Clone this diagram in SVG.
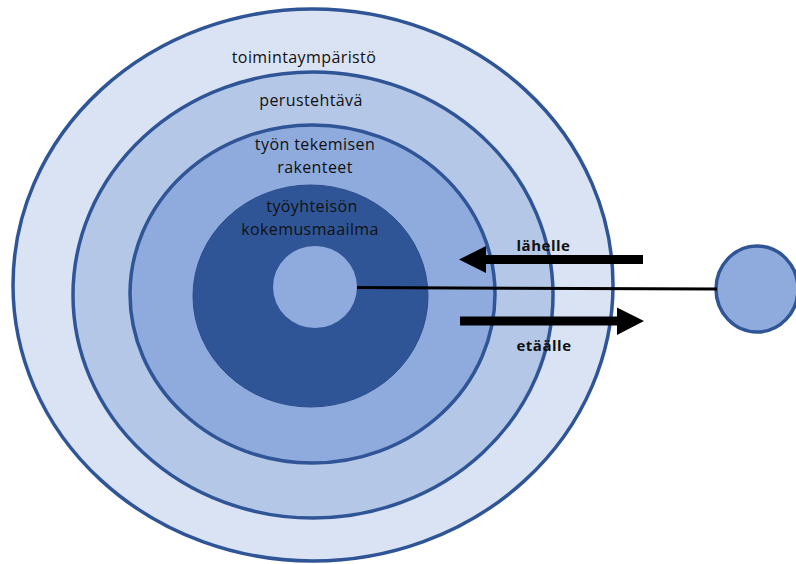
<svg xmlns="http://www.w3.org/2000/svg" width="796" height="564" viewBox="0 0 796 564">
  <style>
    .ring { stroke: #2F5597; stroke-width: 3.5; }
    .lbl { font-family: "Open Sans", "Liberation Sans", sans-serif; font-size: 16px; fill: #111; text-anchor: middle; letter-spacing: 0.4px; }
    .blbl { font-family: "Open Sans", "Liberation Sans", sans-serif; font-size: 15px; font-weight: bold; fill: #111; text-anchor: middle; letter-spacing: 0.5px; }
  </style>
  <rect width="796" height="564" fill="#FFFFFF"/>
  <g id="toimintaymparisto">
    <ellipse class="ring" cx="313" cy="285" rx="300" ry="276" fill="#DAE3F3"/>
    <text class="lbl" x="304" y="62.5">toimintaympäristö</text>
  </g>
  <g id="perustehtava">
    <ellipse class="ring" cx="313" cy="295" rx="240" ry="223" fill="#B4C7E7"/>
    <text class="lbl" x="311" y="106">perustehtävä</text>
  </g>
  <g id="rakenteet">
    <ellipse class="ring" cx="312.5" cy="294" rx="182.5" ry="169" fill="#8FAADC"/>
    <text class="lbl" x="315" y="149.5">työn tekemisen</text>
    <text class="lbl" x="315" y="172.5">rakenteet</text>
  </g>
  <g id="kokemusmaailma">
    <ellipse cx="310.5" cy="296" rx="117.5" ry="111" fill="#2F5597" stroke="#2A4E8C" stroke-width="1"/>
    <text class="lbl" x="312" y="212">työyhteisön</text>
    <text class="lbl" x="310" y="235">kokemusmaailma</text>
  </g>
  <g id="ydin">
    <ellipse cx="315" cy="287" rx="42" ry="41" fill="#8FAADC"/>
  </g>
  <g id="yksilo">
    <ellipse cx="757" cy="289" rx="41" ry="43" fill="#8FAADC" stroke="#2F5597" stroke-width="3.5"/>
  </g>
  <g id="connectors">
    <line x1="357" y1="287.5" x2="717" y2="289" stroke="#000" stroke-width="3"/>
    <polygon points="643,255 486,255 486,246 459,259.5 486,273 486,264 643,264" fill="#000"/>
    <polygon points="460,316.5 617,316.5 617,307.5 644,321 617,335 617,325.5 460,325.5" fill="#000"/>
  </g>
  <g id="labels">
    <text class="blbl" x="543.5" y="250.5">lähelle</text>
    <text class="blbl" x="544" y="350.5">etäälle</text>
  </g>
</svg>
